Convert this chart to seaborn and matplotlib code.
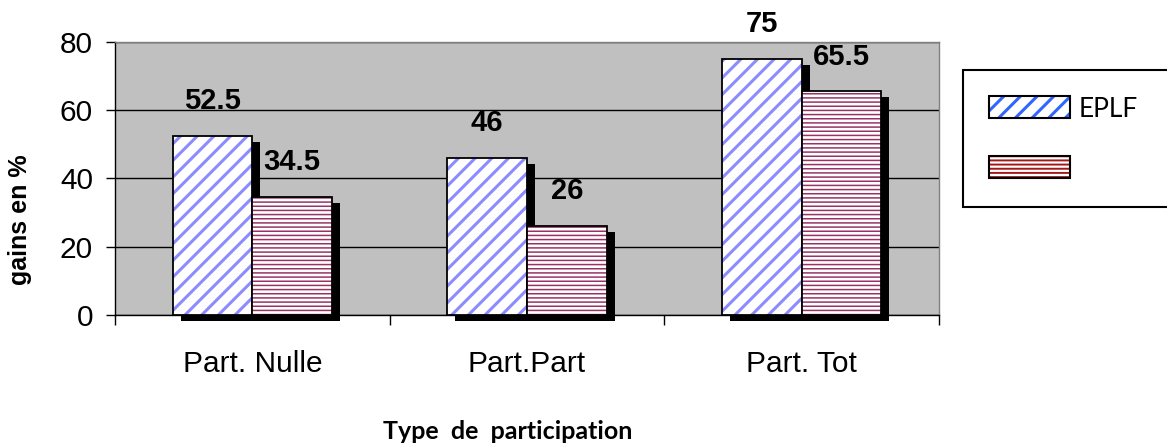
import numpy as np
import pandas as pd
import matplotlib
matplotlib.use("Agg")
import matplotlib.pyplot as plt
import matplotlib.colors as mcolors
from matplotlib.patches import Patch, Rectangle
from matplotlib.ticker import FixedLocator
from matplotlib.transforms import ScaledTranslation
import seaborn as sns

# Gains (%) by type of participation
categories = ["Part. Nulle", "Part.Part", "Part. Tot"]
series = ["EPLF", ""]
eplf_values = [52.5, 46, 75]
other_values = [34.5, 26, 65.5]
y_ticks = [0, 20, 40, 60, 80]

df = pd.DataFrame({
    "participation": categories * 2,
    "serie": [series[0]] * len(categories) + [series[1]] * len(categories),
    "gain": eplf_values + other_values,
})

sns.set_theme(style="white")
plt.rcParams["font.family"] = ["Liberation Sans", "DejaVu Sans"]
plt.rcParams.update({
    "text.color": "black",
    "axes.labelcolor": "black",
    "xtick.color": "black",
    "ytick.color": "black",
    "hatch.linewidth": 1.6,
})
calibri_like = ["Lato", "DejaVu Sans"]

# (hatch, hatch colour, hatch line width)
BAR_HATCH = {series[0]: ("//", "#8C8CFF", 2.2), series[1]: ("----", "#993366", 1.1)}
LEGEND_HATCH = {series[0]: ("//", "#2F66FF", 2.2), series[1]: ("----", "#A31919", 1.4)}


def style_hatch(patch, hatch, color, lw):
    patch.set_hatch(hatch)
    if hasattr(patch, "set_hatchcolor"):
        patch.set_hatchcolor(color)
    else:
        patch._hatch_color = mcolors.to_rgba(color)
    if hasattr(patch, "set_hatch_linewidth"):
        patch.set_hatch_linewidth(lw)
    draw = patch.draw

    def draw_with_hatch_width(renderer, _draw=draw, _lw=lw):
        with plt.rc_context({"hatch.linewidth": _lw}):
            _draw(renderer)

    patch.draw = draw_with_hatch_width


fig = plt.figure(figsize=(11.67, 4.43), dpi=100)
ax = fig.add_axes([115 / 1167, 128 / 443, 824 / 1167, 273.3 / 443])

sns.barplot(data=df, x="participation", y="gain", hue="serie",
            order=categories, hue_order=series,
            palette=[BAR_HATCH[s][1] for s in series], saturation=1,
            width=0.58, errorbar=None, legend=False, ax=ax)

# solid black drop shadow offset to the lower right of every bar
shadow_shift = ax.transData + ScaledTranslation(8 / 100, -6 / 100, fig.dpi_scale_trans)
for container, name in zip(ax.containers, series):
    for bar in container:
        bar.set_facecolor("white")
        bar.set_edgecolor("black")
        bar.set_linewidth(1.3)
        style_hatch(bar, *BAR_HATCH[name])
        bar.set_zorder(3)
        ax.add_patch(Rectangle(bar.get_xy(), bar.get_width(), bar.get_height(),
                               transform=shadow_shift, facecolor="black",
                               edgecolor="none", zorder=2.2, clip_on=False))
        h = bar.get_height()
        ax.annotate(f"{h:g}", (bar.get_x() + bar.get_width() / 2, h),
                    xytext=(0, 25), textcoords="offset points",
                    ha="center", va="center", fontsize=21, fontweight="bold",
                    annotation_clip=False, zorder=4)

ax.set_facecolor("#C0C0C0")
ax.set_xlim(-0.5, len(categories) - 0.5)
ax.set_ylim(y_ticks[0], y_ticks[-1])
ax.set_yticks(y_ticks)
ax.xaxis.set_minor_locator(FixedLocator(np.arange(-0.5, len(categories), 1.0)))
ax.tick_params(axis="x", which="major", length=0, pad=25, labelsize=21.5, bottom=True)
ax.tick_params(axis="x", which="minor", length=7.2, width=1, color="black",
               direction="out", bottom=True)
ax.tick_params(axis="y", length=6.5, width=1, color="black", direction="out",
               left=True, pad=9.4, labelsize=21.5)
ax.yaxis.grid(True, color="black", linewidth=1)
ax.xaxis.grid(False)
ax.set_axisbelow(True)

for side in ("top", "right"):
    ax.spines[side].set_color("#808080")
    ax.spines[side].set_linewidth(1)
for side in ("left", "bottom"):
    ax.spines[side].set_color("black")
    ax.spines[side].set_linewidth(1)
    ax.spines[side].set_zorder(2.5)

ax.set_xlabel("Type  de  participation", fontsize=18, fontweight="bold",
              family=calibri_like)
ax.xaxis.set_label_coords(0.476, -0.428)
ax.xaxis.label.set_va("center")
ax.set_ylabel("gains en %", fontsize=18, fontweight="bold")
ax.yaxis.set_label_coords(-0.1153, 0.349)
ax.yaxis.label.set_va("center")

handles = [Patch(facecolor="white", edgecolor="black", linewidth=1.5) for _ in series]

leg = fig.legend(handles, series, loc="upper left",
                 bbox_to_anchor=(963 / 1167, 1 - 70 / 443, 230 / 1167, 0),
                 mode="expand", borderaxespad=0, borderpad=1.0,
                 prop={"family": calibri_like, "size": 19},
                 handlelength=3.07, handleheight=0.91, handletextpad=0.3,
                 labelspacing=1.3, frameon=True, fancybox=False,
                 edgecolor="black", framealpha=1, facecolor="white")
leg.get_frame().set_linewidth(1.5)
for p, name in zip(leg.get_patches(), series):
    style_hatch(p, *LEGEND_HATCH[name])

fig.savefig("out.png", dpi=100)
